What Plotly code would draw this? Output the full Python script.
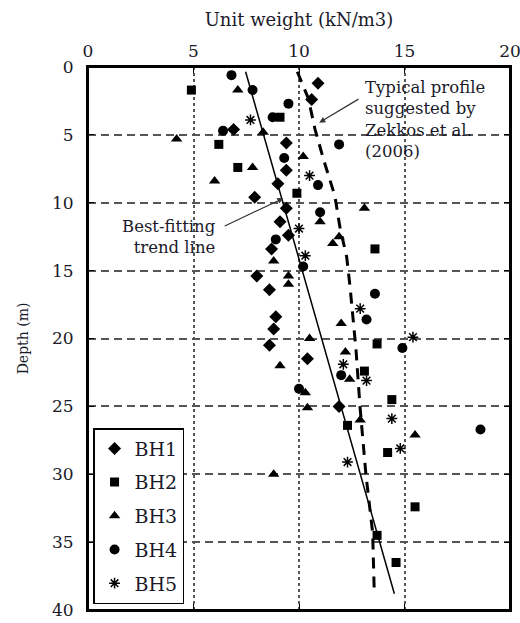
import plotly.graph_objects as go

# ---- data (unit weight kN/m3, depth m) ----
bh1_uw = [10.9, 10.6, 6.9, 9.4, 9.4, 9.0, 7.9, 9.4, 9.1, 9.5, 8.7, 8.0, 8.6, 8.9, 8.8, 8.6, 10.4, 11.9]
bh1_depth = [1.2, 2.4, 4.6, 5.6, 7.6, 8.6, 9.6, 10.4, 11.4, 12.4, 13.4, 15.4, 16.4, 18.4, 19.3, 20.5, 21.5, 25.0]

bh2_uw = [4.9, 9.1, 6.2, 7.1, 9.9, 13.6, 13.7, 13.1, 14.4, 12.3, 14.2, 15.5, 13.7, 14.6]
bh2_depth = [1.7, 3.7, 5.7, 7.4, 9.3, 13.4, 20.4, 22.4, 24.5, 26.4, 28.4, 32.4, 34.5, 36.5]

bh3_uw = [7.1, 8.3, 4.2, 10.2, 7.8, 6.0, 13.1, 11.0, 11.9, 11.6, 8.8, 9.5, 9.5, 12.0, 10.5, 12.2, 9.1, 12.4, 10.3, 10.4, 12.9, 15.5, 8.8]
bh3_depth = [1.7, 4.8, 5.3, 6.6, 7.4, 8.4, 10.4, 11.4, 12.5, 13.0, 14.3, 15.4, 16.0, 18.9, 20.0, 21.0, 22.0, 23.0, 24.0, 25.1, 26.0, 27.1, 30.0]

bh4_uw = [6.8, 7.8, 9.5, 8.75, 6.4, 11.9, 9.3, 10.9, 11.0, 8.9, 10.2, 13.6, 13.2, 14.9, 12.0, 10.0, 18.6]
bh4_depth = [0.6, 1.7, 2.7, 3.7, 4.7, 5.7, 6.7, 8.7, 10.7, 12.7, 14.7, 16.7, 18.6, 20.7, 22.7, 23.7, 26.7]

bh5_uw = [7.7, 10.5, 10.0, 10.3, 12.9, 15.4, 12.1, 13.2, 14.4, 14.8, 12.3]
bh5_depth = [3.9, 8.0, 11.9, 13.9, 17.8, 19.9, 21.9, 23.1, 25.9, 28.1, 29.1]

trend_uw = [7.47, 14.52]
trend_depth = [0.35, 38.8]

zekkos_uw = [9.92, 10.44, 10.76, 11.2, 11.7, 11.94, 12.26, 12.42, 12.7, 12.89, 13.17, 13.49, 13.57]
zekkos_depth = [0.35, 2.3, 4.6, 7.0, 9.5, 11.8, 14.0, 16.2, 20.8, 25.0, 30.0, 34.3, 38.9]

x_ticks = [0, 5, 10, 15, 20]
y_ticks = [0, 5, 10, 15, 20, 25, 30, 35, 40]

FONT = "DejaVu Serif"
INK = "#1a1a2a"

fig = go.Figure()

fig.add_trace(go.Scatter(x=trend_uw, y=trend_depth, mode="lines", showlegend=False,
                         line=dict(color="black", width=1.5)))
fig.add_trace(go.Scatter(x=zekkos_uw, y=zekkos_depth, mode="lines", showlegend=False,
                         line=dict(color="black", width=3, dash="11px,8px")))

def add(name, uw, d, symbol, size, lw=0):
    fig.add_trace(go.Scatter(
        x=uw, y=d, mode="markers", name=name, legendgroup=name,
        marker=dict(symbol=symbol, size=size, color="black",
                    line=dict(color="black", width=lw))))

add("BH1", bh1_uw, bh1_depth, "diamond", 10)
add("BH2", bh2_uw, bh2_depth, "square", 9)
add("BH3", bh3_uw, bh3_depth, "triangle-up", 10)
add("BH4", bh4_uw, bh4_depth, "circle", 10)
add("BH5", bh5_uw, bh5_depth, "asterisk-open", 9, 1.5)

fig.update_layout(
    width=520, height=623,
    margin=dict(l=88, r=10, t=67, b=13),
    paper_bgcolor="white", plot_bgcolor="white",
    font=dict(family=FONT, color=INK),
    showlegend=True,
    legend=dict(x=0.012, y=0.011, xanchor="left", yanchor="bottom",
                bgcolor="white", bordercolor="black", borderwidth=1.5,
                font=dict(family=FONT, size=19, color=INK),
                tracegroupgap=6, itemwidth=30),
    xaxis=dict(range=[0, 20], side="top", tickvals=x_ticks, automargin=False,
               ticklabeloverflow="allow", ticklabelstandoff=1,
               showgrid=True, gridcolor="#555", gridwidth=1.5, griddash="3px,3px",
               zeroline=False, showline=True, mirror="ticks", linecolor="black", linewidth=2,
               ticks="inside", ticklen=6, tickcolor="black",
               tickfont=dict(family=FONT, size=17, color=INK),
               title=dict(text="Unit weight (kN/m3)", font=dict(family=FONT, size=18, color=INK),
                          standoff=10)),
    yaxis=dict(range=[40, 0], tickvals=y_ticks, automargin=False,
               ticklabeloverflow="allow", ticklabelstandoff=9,
               showgrid=True, gridcolor="#555", gridwidth=1.5, griddash="8px,5px",
               zeroline=False, showline=True, mirror="ticks", linecolor="black", linewidth=2,
               ticks="inside", ticklen=6, tickcolor="black",
               tickfont=dict(family=FONT, size=17, color=INK),
               title=dict(text="Depth (m)", font=dict(family=FONT, size=14, color=INK),
                          standoff=20)),
)

# plot frame
fig.add_shape(type="rect", xref="paper", yref="paper", x0=0, x1=1, y0=0, y1=1,
              line=dict(color="black", width=2), fillcolor="rgba(0,0,0,0)", layer="above")

fig.add_annotation(x=13.05, y=3.9, xref="x", yref="y", xanchor="left", yanchor="middle",
                   align="left", showarrow=False,
                   text="Typical profile<br>suggested by<br>Zekkos et al.<br>(2006)",
                   font=dict(family=FONT, size=16.5, color=INK))
fig.add_annotation(x=10.96, y=4.1, ax=12.89, ay=2.3, xref="x", yref="y", axref="x", ayref="y",
                   showarrow=True, arrowhead=2, arrowsize=1, arrowwidth=1.2, arrowcolor="#333", text="")

fig.add_annotation(x=6.15, y=12.55, xref="x", yref="y", xanchor="right", yanchor="middle",
                   align="right", showarrow=False,
                   text="Best-fitting<br>trend line",
                   font=dict(family=FONT, size=16.5, color=INK))
fig.add_annotation(x=9.26, y=9.67, ax=6.41, ay=11.76, xref="x", yref="y", axref="x", ayref="y",
                   showarrow=True, arrowhead=2, arrowsize=1, arrowwidth=1.2, arrowcolor="#333", text="")

fig.write_html("out.html", config={"displayModeBar": False},
               post_script="document.body.style.margin='0';document.body.style.overflow='hidden';")
